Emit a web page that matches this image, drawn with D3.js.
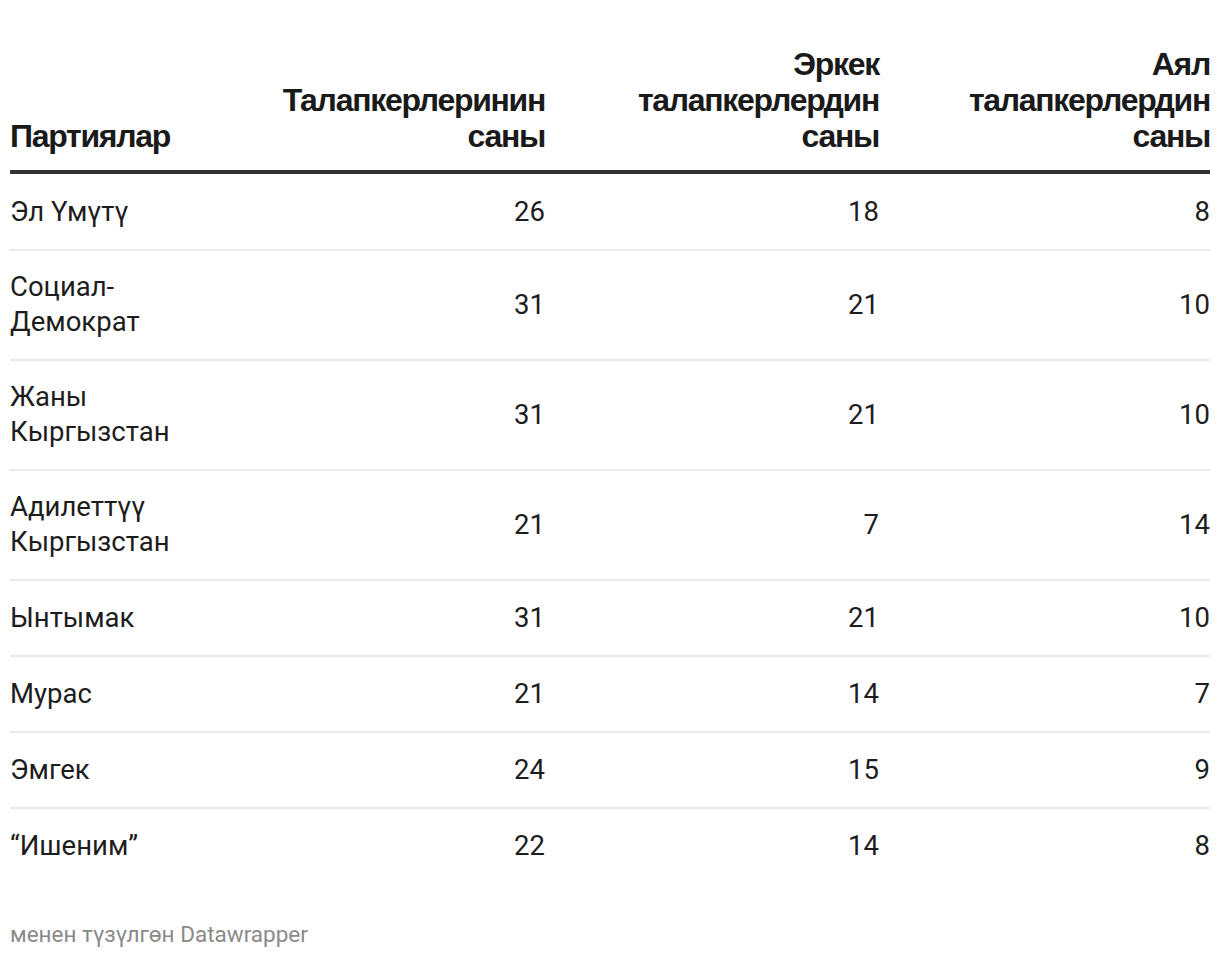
<!DOCTYPE html>
<html>
<head>
<meta charset="utf-8">
<script src="https://cdn.jsdelivr.net/npm/d3@7"></script>
<style>
  html, body { margin: 0; padding: 0; background: #fff; }
  svg { display: block; }
</style>
</head>
<body>
<svg id="chart" width="1220" height="958"></svg>
<script>
// ---- data ----
const headers = ["Партиялар", "Талапкерлеринин саны", "Эркек талапкерлердин саны", "Аял талапкерлердин саны"];
const parties = ["Эл Үмүтү", "Социал-Демократ", "Жаны Кыргызстан", "Адилеттүү Кыргызстан", "Ынтымак", "Мурас", "Эмгек", "“Ишеним”"];
const totalCandidates = [26, 31, 31, 21, 31, 21, 24, 22];
const maleCandidates = [18, 21, 21, 7, 21, 14, 15, 14];
const femaleCandidates = [8, 10, 10, 14, 10, 7, 9, 8];
const footer = "менен түзүлгөн Datawrapper";

// ---- layout ----
const svg = d3.select("#chart");
const left = 10, right = 1210;
const bodyFont = "Roboto, 'Noto Sans', sans-serif";
const headFont = "'Liberation Sans', Arial, sans-serif";
const bodySize = 27.5, headSize = 32;
const bodyLH = 35, headLH = 36;
const headRuleY = 172;
const rowBase = 76;

const colKeys = ["name", "total", "male", "female"];
const colX = d3.scaleOrdinal().domain(colKeys).range([left, 545, 879, right]);
const colMax = d3.scaleOrdinal().domain(colKeys).range([190, 300, 300, 300]);

// measuring helper
const meas = svg.append("text").attr("visibility", "hidden");
function wrap(str, font, size, weight, ls, maxW) {
  meas.attr("font-family", font).attr("font-size", size).attr("font-weight", weight).attr("letter-spacing", ls);
  const tokens = str.replace(/-/g, "- ").split(" ").filter(t => t.length);
  const lines = [];
  let cur = "";
  tokens.forEach(t => {
    const sep = cur === "" || cur.endsWith("-") ? "" : " ";
    const trial = cur + sep + t;
    meas.text(trial);
    if (cur !== "" && meas.node().getComputedTextLength() > maxW) {
      lines.push(cur);
      cur = t;
    } else cur = trial;
  });
  if (cur) lines.push(cur);
  return lines;
}

// ---- header ----
const headLS = -1.3;
const headBottomBaseline = 147;
headers.forEach((h, i) => {
  const key = colKeys[i];
  const lines = wrap(h, headFont, headSize, "bold", headLS, colMax(key));
  const t = svg.append("text")
    .attr("font-family", headFont)
    .attr("font-size", headSize)
    .attr("font-weight", "bold")
    .attr("letter-spacing", headLS)
    .attr("fill", "#1a1a1a")
    .attr("text-anchor", i === 0 ? "start" : "end");
  lines.forEach((l, j) => {
    t.append("tspan")
      .attr("x", colX(key))
      .attr("y", headBottomBaseline - (lines.length - 1 - j) * headLH)
      .text(l);
  });
});

svg.append("rect")
  .attr("x", left).attr("y", headRuleY - 2)
  .attr("width", right - left).attr("height", 4)
  .attr("fill", "#333");

// ---- rows ----
const rows = parties.map((p, i) => ({
  name: p,
  lines: wrap(p, bodyFont, bodySize, "normal", 0, colMax("name")),
  total: totalCandidates[i],
  male: maleCandidates[i],
  female: femaleCandidates[i]
}));
let y = headRuleY + 2;
rows.forEach(r => {
  r.top = y;
  r.h = rowBase + (r.lines.length - 1) * 34;
  y += r.h;
});

const rowG = svg.selectAll("g.row").data(rows).join("g")
  .attr("class", "row")
  .attr("transform", d => `translate(0,${d.top})`);

const capShift = bodySize * 0.36;

rowG.append("text")
  .attr("font-family", bodyFont)
  .attr("font-size", bodySize)
  .attr("fill", "#1d1d1d")
  .each(function(d) {
    const c = d.h / 2 - 1;
    const n = d.lines.length;
    d3.select(this).selectAll("tspan").data(d.lines).join("tspan")
      .attr("x", colX("name"))
      .attr("y", (l, j) => c + (j - (n - 1) / 2) * bodyLH + capShift)
      .text(l => l);
  });

["total", "male", "female"].forEach(k => {
  rowG.append("text")
    .attr("font-family", bodyFont)
    .attr("font-size", bodySize)
    .attr("fill", "#1d1d1d")
    .attr("text-anchor", "end")
    .attr("x", colX(k))
    .attr("y", d => d.h / 2 - 1 + capShift)
    .text(d => d[k]);
});

rowG.filter((d, i) => i < rows.length - 1).append("rect")
  .attr("x", left).attr("y", d => d.h - 1)
  .attr("width", right - left).attr("height", 2)
  .attr("fill", "#e9e9e9");

// ---- footer ----
svg.append("text")
  .attr("x", left).attr("y", 942)
  .attr("font-family", bodyFont)
  .attr("font-size", 22.5)
  .attr("fill", "#8a8a8a")
  .text(footer);

meas.remove();
</script>
</body>
</html>
